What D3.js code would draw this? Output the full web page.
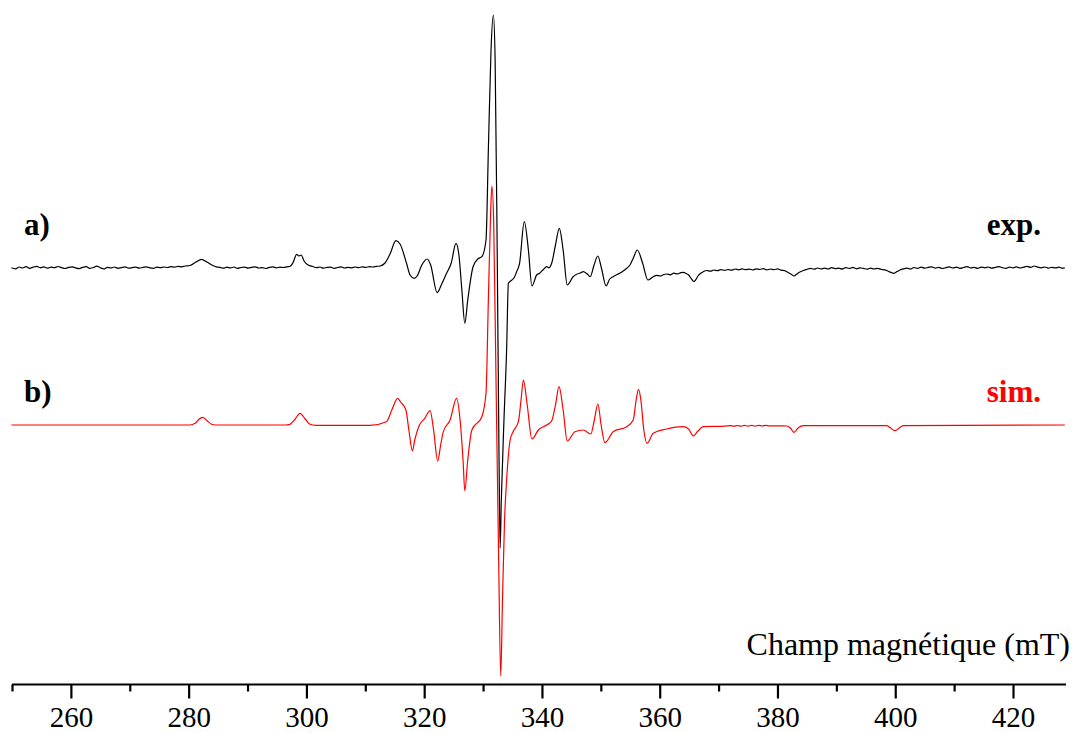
<!DOCTYPE html>
<html>
<head>
<meta charset="utf-8">
<script src="https://cdn.jsdelivr.net/npm/d3@7/dist/d3.min.js"></script>
<style>
  html, body { margin: 0; padding: 0; background: #fff; }
  svg { display: block; }
  text { font-family: 'Liberation Serif', 'Times New Roman', serif; }
</style>
</head>
<body>
<svg id="chart" width="1074" height="733"></svg>
<script>
// ---------- DATA ----------
// Field range (mT)
const fieldDomain = [250, 429];
const majorTicks = [260, 280, 300, 320, 340, 360, 380, 400, 420];
const minorTicks = [250, 270, 290, 310, 330, 350, 370, 390, 410];
const axisTitle = "Champ magnétique (mT)";
const traceLabels = ["a)", "b)"];
const traceNames = ["exp.", "sim."];
// vertical offset of the simulated trace (a.u.)
const simOffset = -157;

// experimental spectrum [field mT, signal a.u.]
const expSpectrum = [
  [249.9,0.2],[250.6,-0.8],[251.2,1.0],[251.8,0.0],[252.4,1.4],[253.0,-0.3],[253.6,0.9],[254.2,1.6],
  [254.8,0.2],[255.4,1.1],[256.0,-0.2],[256.6,0.8],[257.2,0.3],[257.8,1.5],[258.4,0.4],[259.0,-0.5],
  [259.6,0.6],[260.2,1.2],[260.8,0.1],[261.4,-0.6],[262.0,0.7],[262.6,1.3],[263.2,-0.4],[263.8,0.5],
  [264.4,1.8],[265.0,0.2],[265.6,-0.9],[266.2,0.6],[266.8,0.0],[267.4,1.0],[268.0,-0.3],[268.6,0.4],
  [269.2,1.1],[269.8,-0.2],[270.4,0.3],[271.0,0.9],[271.6,-0.1],[272.2,0.5],[272.8,1.2],[273.4,0.2],
  [274.0,-0.4],[274.6,0.8],[275.2,0.3],[275.8,1.0],[276.4,0.5],[277.0,1.3],[277.6,0.8],[278.2,1.6],
  [278.8,1.2],[279.4,2.0],[280.2,2.5],[281.25,6],[282.2,8.7],[283.1,6],[284.1,2.5],[284.7,1.2],
  [285.3,0.7],[285.9,-0.2],[286.5,0.8],[287.1,0.1],[287.7,1.0],[288.3,-0.4],[288.9,0.5],[289.5,0.9],
  [290.1,-0.1],[290.7,0.6],[291.3,1.2],[291.9,0.0],[292.5,0.4],[293.1,-0.5],[293.7,0.7],[294.3,1.1],
  [294.9,0.2],[295.5,0.8],[296.1,0.5],[296.7,1.2],[297.2,1.5],[297.7,5],[298.35,13.7],[298.7,12],
  [299.1,13],[299.6,7],[300.3,3],[301.1,1.5],[301.7,0.4],[302.3,1.0],[302.9,-0.2],[303.5,0.6],
  [304.1,0.9],[304.7,-0.3],[305.3,0.5],[305.9,1.1],[306.5,0.0],[307.1,0.7],[307.7,0.2],[308.3,1.0],
  [308.9,0.4],[309.5,1.2],[310.1,0.6],[310.7,1.4],[311.3,1.0],[311.9,1.6],[312.5,2.0],[313.35,5],
  [314.2,14],[315.2,27.3],[315.9,24],[317.0,4.7],[317.6,-7],[318.3,-10.3],[318.8,-8],[319.6,3],
  [320.5,9],[321.1,3],[322.2,-24.7],[322.9,-17],[323.8,-5.3],[324.6,5],[325.4,24.7],[325.9,13],
  [326.4,-22],[326.9,-55.3],[327.4,-32],[328.3,1.3],[329.1,9],[329.8,11.3],[330.5,28],[330.9,118],
  [331.35,218],[331.75,253],[332.05,208],[332.4,18],[332.7,-182],[332.9,-280],[333.1,-232],[333.55,-152],
  [334.0,-82],[334.3,-15.3],[334.9,-12],[335.3,-9.5],[335.7,-3.7],[336.2,4.7],[337.0,46.3],[337.7,18],
  [338.3,-18],[339.1,-7],[339.6,-5.2],[340.2,-1.8],[340.8,1.3],[341.2,0.4],[341.65,4.7],[342.3,23],
  [342.95,39.7],[343.6,18],[344.3,-17],[345.3,-8.7],[345.9,-6.2],[346.5,-5.0],[347.0,-3.7],[347.6,-5.5],
  [348.2,-8.7],[348.85,3],[349.5,12],[350.1,0],[350.9,-18],[351.5,-11],[352.1,-8.7],[352.8,-6.5],
  [353.5,-4.2],[354.4,-0.3],[355.0,3.5],[355.5,9.7],[356.2,18],[357.1,4.7],[358.0,-12],[358.9,-8.7],
  [359.5,-7.4],[360.1,-8.0],[360.7,-6.5],[361.2,-6.0],[361.8,-6.8],[362.4,-5.2],[363.0,-5.9],[363.6,-4.6],
  [364.0,-4.3],[364.5,-5.5],[364.9,-7],[365.4,-11],[365.8,-13.5],[366.2,-11],[366.5,-8],[366.9,-5.5],
  [367.4,-3.7],[368.0,-2.5],[368.6,-3.2],[369.2,-2.0],[369.8,-2.6],[370.4,-1.6],[371.0,-2.4],[371.6,-1.5],
  [372.2,-2.2],[372.8,-1.0],[373.4,-1.8],[374.0,-0.9],[374.6,-1.7],[375.2,-1.1],[375.8,-2.0],[376.4,-0.8],
  [377.0,-1.5],[377.6,-0.6],[378.2,-1.9],[378.8,-1.0],[379.4,-1.6],[380.0,-0.9],[380.6,-2.2],[381.2,-2.6],
  [381.8,-4.5],[382.4,-6.5],[382.8,-8],[383.3,-6],[383.8,-4],[384.4,-2.5],[385.0,-1.3],[385.6,-0.4],
  [386.2,-1.2],[386.8,0.0],[387.4,-0.9],[388.0,-0.2],[388.6,-1.0],[389.2,0.3],[389.8,-0.6],[390.4,-0.1],
  [391.0,-1.1],[391.6,0.4],[392.2,-0.5],[392.8,0.6],[393.4,-0.8],[394.0,0.1],[394.6,-0.4],[395.2,-1.2],
  [395.8,-0.2],[396.4,-1.0],[397.0,-0.3],[397.6,-1.4],[398.2,-1.8],[398.8,-3.2],[399.4,-4.8],[399.8,-5.3],
  [400.3,-3.6],[400.8,-2.0],[401.4,-0.8],[402.0,-0.2],[402.6,-1.0],[403.2,0.5],[403.8,-0.4],[404.4,0.9],
  [405.0,-0.2],[405.6,0.6],[406.2,1.2],[406.8,-0.1],[407.4,0.7],[408.0,-0.5],[408.6,0.4],[409.2,1.1],
  [409.8,0.0],[410.4,0.8],[411.0,-0.3],[411.6,0.5],[412.2,1.3],[412.8,0.1],[413.4,0.6],[414.0,-0.4],
  [414.6,0.9],[415.2,0.2],[415.8,1.0],[416.4,-0.2],[417.0,0.7],[417.6,1.4],[418.2,0.3],[418.8,-0.3],
  [419.4,0.8],[420.0,0.2],[420.6,1.1],[421.2,0.0],[421.8,0.9],[422.4,1.6],[423.0,0.6],[423.6,2.0],
  [424.2,0.8],[424.8,0.2],[425.4,1.0],[426.0,-0.1],[426.6,0.7],[427.2,0.1],[427.8,0.8],[428.4,-0.2],
  [428.8,0.3]
];

// simulated spectrum [field mT, signal a.u.]
const simSpectrum = [
  [249.9,0],[280.2,0],[281.1,1.7],[281.7,5.5],[282.4,7.7],[283.0,5],[283.9,0.7],[284.6,0],
  [296.4,0],[297.2,0.7],[298.1,6],[298.9,11.7],[299.8,6],[300.6,0.7],[301.6,-0.3],[310.8,-0.3],
  [313.6,3.3],[314.5,15],[315.5,26.7],[316.0,23],[316.9,15],[317.4,-5],[318.0,-25.7],[318.4,-15],
  [319.2,0],[320.1,6.7],[321.0,14.3],[321.6,-5],[322.3,-36],[322.8,-20],[323.25,-6.7],[324.4,5],
  [325.5,26.7],[326.1,5],[326.6,-35],[326.9,-65.7],[327.4,-35],[328.1,-5],[329.8,8.3],[330.5,31.7],
  [330.9,125],[331.3,215],[331.5,239],[331.8,205],[332.2,45],[332.65,-135],[333.0,-251],[333.3,-175],
  [333.65,-95],[334.0,-55],[334.6,-15],[335.1,-6.7],[336.0,3.3],[336.45,25],[336.85,45],[337.5,20],
  [338.3,-14],[339.4,-5],[340.8,0],[341.65,4],[342.3,20],[342.9,38.3],[343.6,15],[344.3,-16],
  [345.6,-6.7],[347.0,-5],[348.3,-9],[348.9,5],[349.5,21],[350.05,0],[350.7,-17.7],[352.1,-6.7],
  [354.4,-1.7],[355.5,5],[356.0,25],[356.4,35.7],[356.8,25],[357.3,-5],[357.85,-18.3],[358.9,-8.3],
  [361.2,-4],[364.0,-1.7],[364.9,-4],[365.7,-11],[366.5,-6],[367.4,-1.7],[371.0,-1.2],[372.0,-0.6],
  [372.6,-1.3],[373.2,-0.5],[373.8,-1.2],[374.4,-0.4],[375.0,-1.1],[375.6,-0.4],[376.2,-1.1],[376.8,-0.4],
  [377.4,-1.0],[378.0,-0.4],[378.6,-0.9],[381.6,-1],[382.2,-3],[382.8,-7.3],[383.5,-3],[384.4,-0.7],
  [398.55,-0.7],[399.1,-2.5],[399.95,-5.7],[400.8,-2.5],[401.4,-0.7],[428.8,0]
];

// ---------- CHART ----------
const serif = "'Liberation Serif', 'Times New Roman', serif";
const svg = d3.select("#chart");
const axisY = 684.5;

const x = d3.scaleLinear().domain(fieldDomain).range([12, 1066]);
const y = d3.scaleLinear().domain([0, 268]).range([268, 0]);

const line = d3.line()
  .x(d => x(d[0]))
  .curve(d3.curveMonotoneX);

svg.append("path")
  .datum(expSpectrum)
  .attr("fill", "none")
  .attr("stroke", "#000")
  .attr("stroke-width", 1.2)
  .attr("stroke-linejoin", "round")
  .attr("d", line.y(d => y(d[1])));

svg.append("path")
  .datum(simSpectrum)
  .attr("fill", "none")
  .attr("stroke", "#ff0000")
  .attr("stroke-width", 1.2)
  .attr("stroke-linejoin", "round")
  .attr("d", line.y(d => y(d[1] + simOffset)));

// axis: major ticks with labels
const axisMajor = d3.axisBottom(x)
  .tickValues(majorTicks)
  .tickSize(14)
  .tickPadding(8)
  .tickFormat(d3.format("d"));
const gMajor = svg.append("g")
  .attr("transform", `translate(0,${axisY})`)
  .call(axisMajor)
  .attr("font-family", serif)
  .attr("font-size", 29);
gMajor.select(".domain").attr("stroke", "#000").attr("stroke-width", 2.2)
  .attr("d", `M${x(fieldDomain[0])},0H${x(fieldDomain[1])}`);
gMajor.selectAll(".tick line").attr("stroke", "#000").attr("stroke-width", 2.2);
gMajor.selectAll(".tick text")
  .attr("fill", "#000")
  .attr("font-family", serif)
  .style("font-family", serif)
  .style("font-size", "29px");

// minor ticks
const axisMinor = d3.axisBottom(x)
  .tickValues(minorTicks)
  .tickSize(7)
  .tickFormat("");
const gMinor = svg.append("g")
  .attr("transform", `translate(0,${axisY})`)
  .call(axisMinor);
gMinor.select(".domain").remove();
gMinor.selectAll(".tick line").attr("stroke", "#000").attr("stroke-width", 2.2);

// axis title
svg.append("text")
  .attr("x", 1070).attr("y", 655)
  .attr("text-anchor", "end")
  .style("font-family", serif)
  .style("font-size", "32px")
  .attr("fill", "#000")
  .text(axisTitle);

// trace labels
function label(txt, xx, yy, anchor, color) {
  svg.append("text").attr("x", xx).attr("y", yy).attr("text-anchor", anchor)
    .style("font-family", serif).style("font-size", "31px").style("font-weight", "bold")
    .attr("fill", color).text(txt);
}
label(traceLabels[0], 24, 235, "start", "#000");
label(traceLabels[1], 24, 402, "start", "#000");
label(traceNames[0], 1041, 235, "end", "#000");
label(traceNames[1], 1041, 402, "end", "#ff0000");
</script>
</body>
</html>
